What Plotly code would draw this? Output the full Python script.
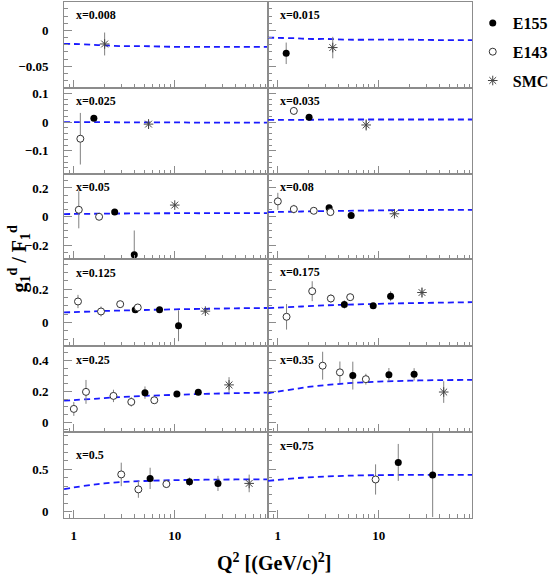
import plotly.graph_objects as go
from plotly.subplots import make_subplots

# x bins, one panel each (row-major: left, right)
x_bins = ["0.008", "0.015", "0.025", "0.035", "0.05", "0.08",
          "0.125", "0.175", "0.25", "0.35", "0.5", "0.75"]

# E155 data: Q2, g1/F1, error
e155_q2 = [[], [1.21], [1.58], [2.04], [2.54, 3.97], [3.22, 5.33],
           [4.06, 7.07, 10.9], [4.56, 8.81, 13.1], [5.07, 10.5, 17.1],
           [5.53, 12.6, 22.4], [5.70, 14.0, 26.8], [15.6, 34.2]]
e155_val = [[], [-0.032], [0.013], [0.017], [0.031, -0.268], [0.061, 0.007],
            [0.076, 0.076, -0.02], [0.108, 0.100, 0.158], [0.191, 0.183, 0.194],
            [0.301, 0.307, 0.309], [0.393, 0.353, 0.333], [0.583, 0.432]]
e155_err = [[], [0.015], [0.006], [0.006], [0.010, 0.17], [0.010, 0.010],
            [0.012, 0.010, 0.093], [0.025, 0.012, 0.030], [0.040, 0.015, 0.020],
            [0.090, 0.043, 0.040], [0.127, 0.050, 0.090], [0.22, 0.50]]

# E143 data
e143_q2 = [[], [], [1.16], [1.44], [1.12, 1.78], [1.0, 1.44, 2.27, 3.32],
           [1.10, 1.86, 2.88, 4.30], [1.22, 2.19, 3.35, 5.21],
           [1.0, 1.32, 2.47, 3.71, 6.27], [2.78, 4.12, 7.45],
           [2.95, 4.36, 8.26], [9.3]]
e143_val = [[], [], [-0.058], [0.039], [0.047, -0.002], [0.106, 0.052, 0.040, 0.031],
            [0.126, 0.066, 0.110, 0.090], [0.034, 0.188, 0.144, 0.152],
            [0.086, 0.196, 0.170, 0.131, 0.142], [0.365, 0.322, 0.278],
            [0.440, 0.262, 0.325], [0.380]]
e143_err = [[], [], [0.090], [0.014], [0.13, 0.010], [0.060, 0.030, 0.010, 0.020],
            [0.040, 0.030, 0.012, 0.015], [0.077, 0.060, 0.025, 0.015],
            [0.045, 0.077, 0.040, 0.030, 0.015], [0.090, 0.070, 0.035],
            [0.140, 0.100, 0.040], [0.180]]

# SMC data
smc_q2 = [[2.02], [3.5], [5.5], [7.5], [10.0], [14.3], [20.1], [26.8],
          [34.5], [44.0], [54.6], []]
smc_val = [[-0.019], [-0.024], [-0.007], [-0.010], [0.080], [0.019], [0.068],
           [0.180], [0.241], [0.195], [0.333], []]
smc_err = [[0.016], [0.015], [0.017], [0.020], [0.012], [0.012], [0.015],
           [0.030], [0.050], [0.070], [0.105], []]

# theory curve (dashed)
curve_q2 = [0.8, 1, 1.5, 2, 3, 5, 10, 20, 40, 84]
curve_val = [
    [-0.019, -0.019, -0.020, -0.021, -0.022, -0.022, -0.023, -0.023, -0.023, -0.023],
    [-0.010, -0.0105, -0.011, -0.012, -0.012, -0.013, -0.013, -0.013, -0.0135, -0.0135],
    [0.0, 0.0, 0.0, 0.0, -0.001, -0.001, -0.001, -0.002, -0.002, -0.002],
    [0.008, 0.008, 0.008, 0.008, 0.009, 0.009, 0.009, 0.009, 0.009, 0.009],
    [0.017, 0.018, 0.019, 0.020, 0.021, 0.022, 0.023, 0.023, 0.024, 0.024],
    [0.031, 0.032, 0.034, 0.036, 0.038, 0.040, 0.043, 0.045, 0.046, 0.047],
    [0.060, 0.062, 0.066, 0.069, 0.072, 0.075, 0.079, 0.082, 0.085, 0.087],
    [0.086, 0.089, 0.094, 0.098, 0.103, 0.107, 0.112, 0.116, 0.119, 0.122],
    [0.139, 0.143, 0.150, 0.156, 0.163, 0.170, 0.177, 0.183, 0.188, 0.191],
    [0.187, 0.198, 0.215, 0.228, 0.240, 0.252, 0.262, 0.268, 0.272, 0.273],
    [0.265, 0.285, 0.315, 0.333, 0.350, 0.362, 0.372, 0.377, 0.380, 0.380],
    [0.363, 0.375, 0.395, 0.405, 0.415, 0.425, 0.432, 0.434, 0.434, 0.434],
]

# per-row y axis settings
row_ranges = [[-0.08, 0.04], [-0.18, 0.12], [-0.3, 0.3],
              [-0.14, 0.38], [-0.063, 0.494], [-0.075, 0.945]]
row_dtick = [0.05, 0.1, 0.2, 0.2, 0.2, 0.5]
row_minor = [0.01, 0.02, 0.05, 0.05, 0.05, 0.1]

x_minor_ticks = [0.8, 0.9, 2, 3, 4, 5, 6, 7, 8, 9, 20, 30, 40, 50, 60, 70, 80]

W, H = 554, 577
col_edges = [65.7, 275.0, 484.3]
row_edges = [1.7, 87.7, 173.7, 259.3, 345.7, 432.0, 517.7]
label_dy = [13, 13, 13, 13, 13, 13, 14, 13, 14, 14, 23, 14]

FONT = "Liberation Serif, Times New Roman, Times, serif"
FRAME = "#8c8c8c"
ERRC = "#808080"

fig = make_subplots(rows=6, cols=2, horizontal_spacing=0, vertical_spacing=0)

for i, xb in enumerate(x_bins):
    r, c = i // 2 + 1, i % 2 + 1

    fig.add_trace(go.Scatter(
        x=curve_q2, y=curve_val[i], mode="lines", line_shape="spline",
        line=dict(color="#1a1aff", width=1.8, dash="6px,4px"),
        showlegend=False, hoverinfo="skip"), row=r, col=c)

    if e155_q2[i]:
        fig.add_trace(go.Scatter(
            x=e155_q2[i], y=e155_val[i], mode="markers", name="<b>E155</b>",
            legendgroup="e155", legendrank=1, showlegend=(i == 1),
            marker=dict(symbol="circle", size=7, color="black"),
            error_y=dict(type="data", array=e155_err[i], color=ERRC, thickness=1, width=0)),
            row=r, col=c)

    if e143_q2[i]:
        fig.add_trace(go.Scatter(
            x=e143_q2[i], y=e143_val[i], mode="markers", name="<b>E143</b>",
            legendgroup="e143", legendrank=2, showlegend=(i == 2),
            marker=dict(symbol="circle", size=7, color="white",
                        line=dict(color="#333", width=1)),
            error_y=dict(type="data", array=e143_err[i], color=ERRC, thickness=1, width=0)),
            row=r, col=c)

    if smc_q2[i]:
        fig.add_trace(go.Scatter(
            x=smc_q2[i], y=smc_val[i], mode="markers", name="<b>SMC</b>",
            legendgroup="smc", legendrank=3, showlegend=(i == 0),
            marker=dict(symbol="asterisk-open", size=8, color="#444",
                        line=dict(color="#444", width=1)),
            error_y=dict(type="data", array=smc_err[i], color=ERRC, thickness=1, width=0)),
            row=r, col=c)

    x0, x1 = col_edges[c - 1] / W, col_edges[c] / W
    y0, y1 = 1 - row_edges[r] / H, 1 - row_edges[r - 1] / H

    fig.update_xaxes(
        type="log", range=[-0.0969, 1.9243], domain=[x0, x1],
        tickmode="array", tickvals=[1, 10], ticktext=["1", "10"],
        ticks="inside", ticklen=8, tickcolor=FRAME,
        showticklabels=(r == 6), ticklabelstandoff=6,
        tickfont=dict(family=FONT, size=13, color="black", weight="bold"),
        minor=dict(tickmode="array", tickvals=x_minor_ticks, ticks="inside",
                   ticklen=4, tickcolor=FRAME, showgrid=False),
        showline=True, linecolor=FRAME, linewidth=1, mirror=True,
        showgrid=False, zeroline=False, automargin=False,
        row=r, col=c)

    fig.update_yaxes(
        range=row_ranges[r - 1], domain=[y0, y1],
        tick0=0, dtick=row_dtick[r - 1],
        ticks="inside", ticklen=8, tickcolor=FRAME,
        showticklabels=(c == 1), ticklabelstandoff=12,
        tickfont=dict(family=FONT, size=13, color="black", weight="bold"),
        minor=dict(tick0=0, dtick=row_minor[r - 1], ticks="inside",
                   ticklen=4, tickcolor=FRAME, showgrid=False),
        showline=True, linecolor=FRAME, linewidth=1, mirror=True,
        showgrid=False, zeroline=False, automargin=False,
        row=r, col=c)

    fig.add_annotation(
        text="<b>x=" + xb + "</b>", showarrow=False,
        xref="paper", yref="paper",
        x=(col_edges[c - 1] + 10.5) / W, y=1 - (row_edges[r - 1] + label_dy[i]) / H,
        xanchor="left", yanchor="middle",
        font=dict(family=FONT, size=12, color="black"))

fig.add_annotation(
    text="<b>g<sub>1</sub><sup>d</sup> / F<sub>1</sub><sup>d</sup></b>",
    textangle=-90, showarrow=False, xref="paper", yref="paper",
    x=20 / W, y=1 - 258 / H, xanchor="center", yanchor="middle",
    font=dict(family=FONT, size=20, color="black"))

fig.add_annotation(
    text="<b>Q<sup>2</sup> [(GeV/c)<sup>2</sup>]</b>",
    showarrow=False, xref="paper", yref="paper",
    x=282 / W, y=1 - 562 / H, xanchor="center", yanchor="middle",
    font=dict(family=FONT, size=20, color="black"))

fig.update_layout(
    width=W, height=H,
    margin=dict(l=0, r=0, t=0, b=0),
    paper_bgcolor="white", plot_bgcolor="white",
    template="none",
    legend=dict(x=485 / W, y=1 - 6 / H, xanchor="left", yanchor="top",
                font=dict(family=FONT, size=16, color="black"),
                tracegroupgap=5, bgcolor="rgba(0,0,0,0)", itemwidth=30),
)

fig.write_html("out.html", config={"displayModeBar": False},
               post_script="document.body.style.margin='0px';")
